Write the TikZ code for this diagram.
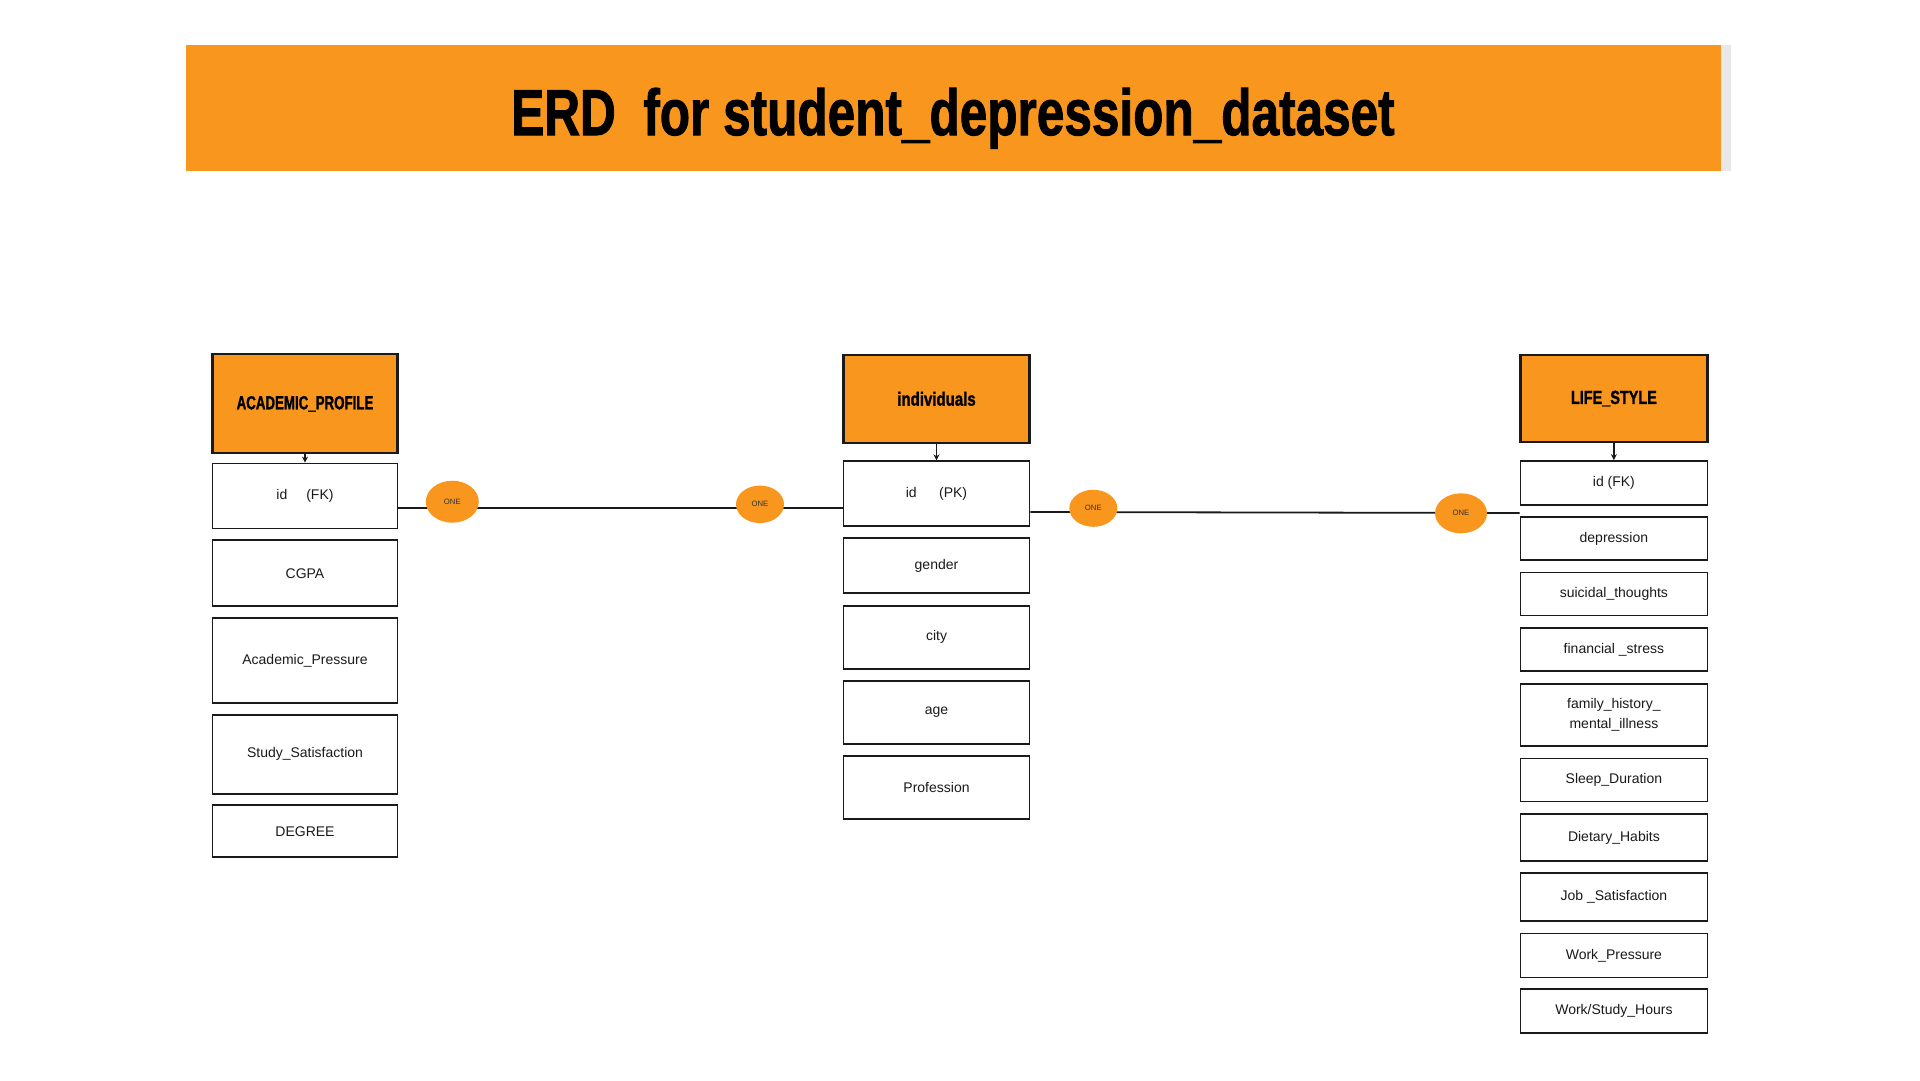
\documentclass[tikz,border=0pt]{standalone}
\usepackage{fontspec}
\setmainfont{Liberation Sans}
\newfontfamily\heavyfont{Liberation Sans}[BoldFeatures={FakeBold=1.6}]
\usetikzlibrary{shapes.geometric,arrows.meta}
\definecolor{erdorange}{RGB}{248,150,30}
\definecolor{lineblack}{RGB}{26,26,26}
\definecolor{shadowgray}{RGB}{232,232,232}
\newcommand{\hdrtext}[2]{\scalebox{#1}[1]{#2}}
\begin{document}
\begin{tikzpicture}[x=1pt,y=-1pt,
  attr/.style={draw=lineblack,line width=1.8pt,fill=white,rectangle,inner sep=0pt,
    font=\fontsize{14}{20}\selectfont,text=lineblack,align=center},
  leftcol/.style={attr,minimum width=185pt},
  midcol/.style={attr,minimum width=186pt},
  rightcol/.style={attr,minimum width=187pt},
  header/.style={draw=lineblack,line width=2.2pt,fill=erdorange,rectangle,inner sep=0pt,
    font=\fontsize{19}{19}\heavyfont\bfseries,text=black},
  onemark/.style={ellipse,fill=erdorange,inner sep=0pt,
    font=\fontsize{7.7}{8}\selectfont,text=black!80},
  link/.style={draw=lineblack,line width=1.8pt},
  keyarrow/.style={draw=lineblack,line width=1.6pt,-{Stealth[length=6pt,width=6pt]}}
]
\fill[white] (0,0) rectangle (1920,1080);
\useasboundingbox (0,0) rectangle (1920,1080);

% title banner
\fill[shadowgray] (1715,45) rectangle (1731,171);
\node[rectangle,fill=erdorange,minimum width=1535pt,minimum height=126pt,inner sep=0pt] (banner) at (953.4,108) {};
\node[anchor=base,inner sep=0pt,font=\fontsize{65}{65}\heavyfont\bfseries] (title) at (953,135)
  {\hdrtext{0.762}{ERD\ \ for student\_depression\_dataset}};

% ACADEMIC_PROFILE
\node[header,minimum width=185pt,minimum height=99pt] (ap) at (305,403.8) {\raisebox{-5pt}{\hdrtext{0.70}{ACADEMIC\_PROFILE}}};
\node[leftcol,minimum height=65pt] (aid) at (305,496) {id\hspace{1.35em}(FK)};
\node[leftcol,minimum height=66pt] (cgpa) at (305,573.3) {CGPA};
\node[leftcol,minimum height=85pt] (apress) at (305,660.7) {Academic\_Pressure};
\node[leftcol,minimum height=79pt] (ssat) at (305,754.3) {Study\_Satisfaction};
\node[leftcol,minimum height=52pt] (degree) at (305,831.3) {DEGREE};

% individuals
\node[header,minimum width=186pt,minimum height=88pt] (ind) at (936.5,398.8) {\raisebox{-1pt}{\hdrtext{0.79}{individuals}}};
\node[midcol,minimum height=65pt] (iid) at (936.5,493.7) {id\hspace{1.6em}(PK)};
\node[midcol,minimum height=55pt] (gender) at (936.5,565.8) {gender};
\node[midcol,minimum height=63pt] (city) at (936.5,637.3) {city};
\node[midcol,minimum height=63pt] (age) at (936.5,712.5) {age};
\node[midcol,minimum height=63pt] (prof) at (936.5,787.5) {Profession};

% LIFE_STYLE
\node[header,minimum width=187pt,minimum height=87pt] (ls) at (1613.9,398.5) {\raisebox{-4pt}{\hdrtext{0.76}{LIFE\_STYLE}}};
\node[rightcol,minimum height=44pt] (lsid) at (1613.9,483) {id (FK)};
\node[rightcol,minimum height=43pt] (dep) at (1613.9,538.5) {depression};
\node[rightcol,minimum height=43pt] (suic) at (1613.9,594) {suicidal\_thoughts};
\node[rightcol,minimum height=43pt] (fin) at (1613.9,649.8) {financial \_stress};
\node[rightcol,minimum height=62pt] (fam) at (1613.9,714.8) {family\_history\_\\mental\_illness};
\node[rightcol,minimum height=43pt] (sleep) at (1613.9,780) {Sleep\_Duration};
\node[rightcol,minimum height=47pt] (diet) at (1613.9,837.5) {Dietary\_Habits};
\node[rightcol,minimum height=48pt] (job) at (1613.9,897.2) {Job \_Satisfaction};
\node[rightcol,minimum height=44pt] (wp) at (1613.9,955.5) {Work\_Pressure};
\node[rightcol,minimum height=44pt] (ws) at (1613.9,1011) {Work/Study\_Hours};

% key arrows
\draw[keyarrow] (ap.south) -- (aid.north);
\draw[keyarrow] (ind.south) -- (iid.north);
\draw[keyarrow] (ls.south) -- (lsid.north);

% relationship lines
\draw[link] ([yshift=-12pt]aid.east) -- ([yshift=-14.3pt]iid.west);
\draw[link] ([yshift=-18.3pt]iid.east) -- ([yshift=-30pt]lsid.west);

% cardinality marks
\node[onemark,minimum width=53pt,minimum height=42pt] (one1) at (452.3,501.7) {ONE};
\node[onemark,minimum width=48pt,minimum height=37.5pt] (one2) at (760,504.3) {ONE};
\node[onemark,minimum width=48pt,minimum height=37pt] (one3) at (1093.3,508.3) {ONE};
\node[onemark,minimum width=52pt,minimum height=40pt] (one4) at (1461,513.3) {ONE};
\end{tikzpicture}
\end{document}
